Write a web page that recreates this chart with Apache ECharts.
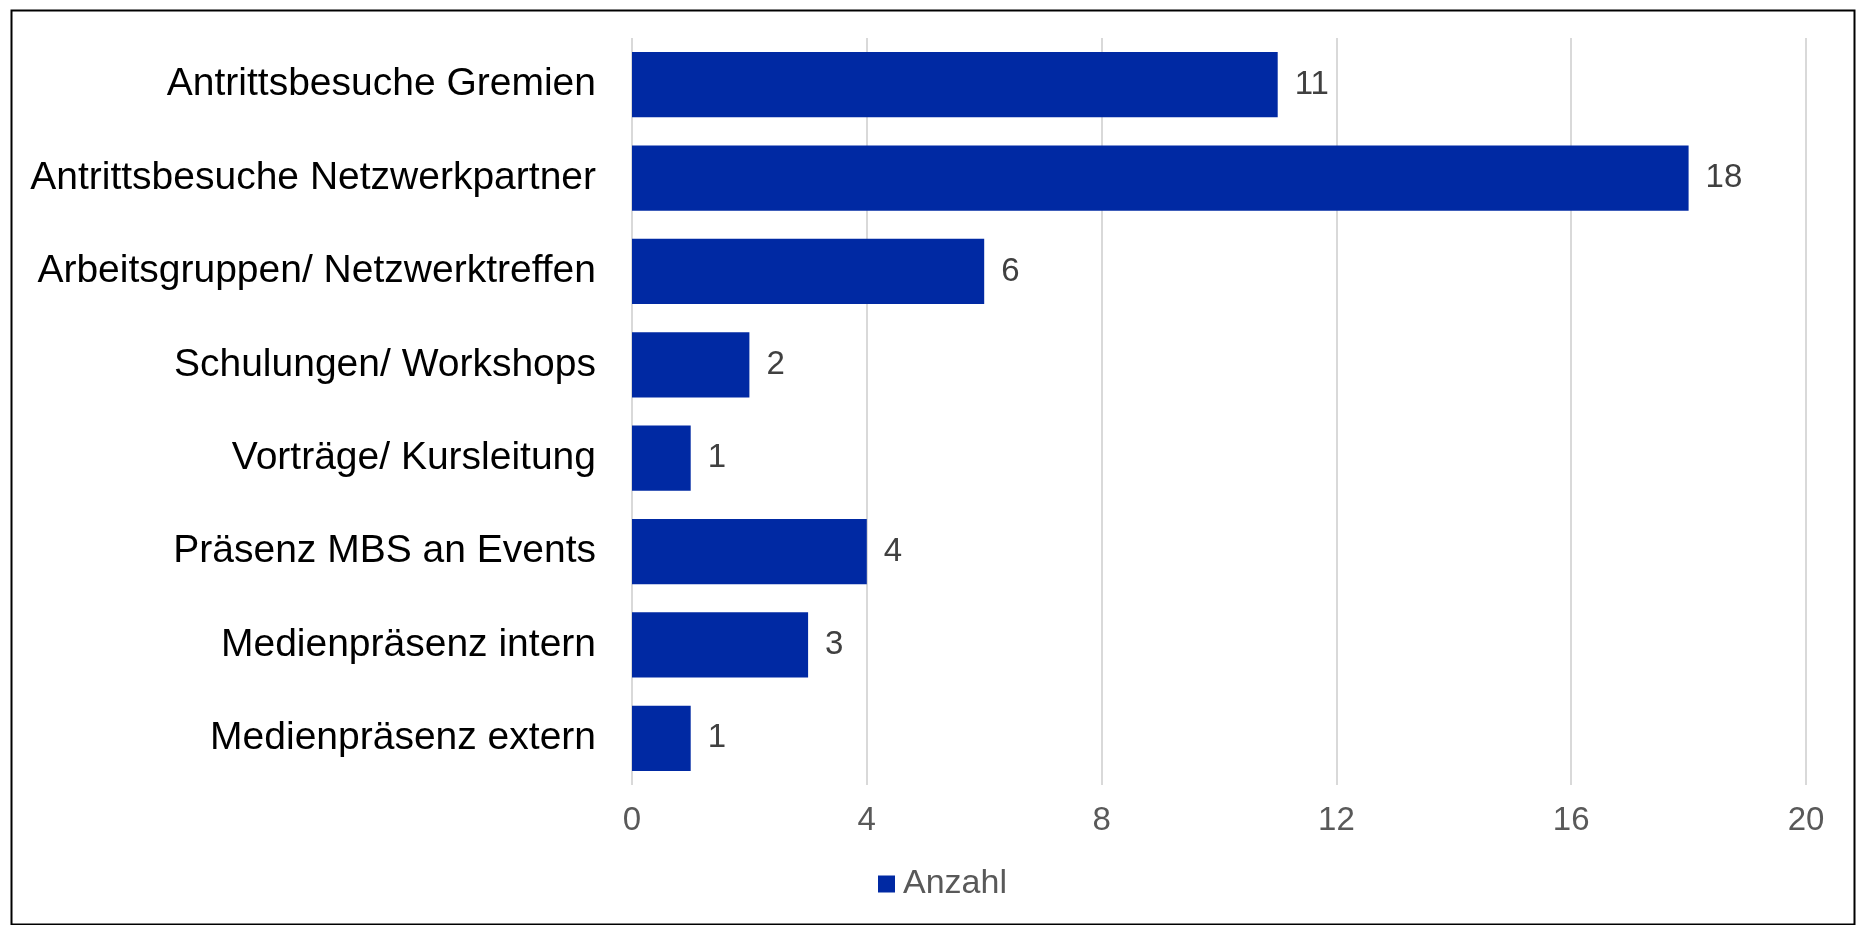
<!DOCTYPE html>
<html>
<head>
<meta charset="utf-8">
<title>Anzahl</title>
<script src="https://cdn.jsdelivr.net/npm/echarts@6/dist/echarts.min.js"></script>
<style>
  html, body { margin: 0; padding: 0; background: #ffffff; }
  #chart { width: 1858px; height: 925px; }
</style>
</head>
<body>
<div id="chart"></div>
<script>
  // Daten
  var categories = [
    'Antrittsbesuche Gremien',
    'Antrittsbesuche Netzwerkpartner',
    'Arbeitsgruppen/ Netzwerktreffen',
    'Schulungen/ Workshops',
    'Vorträge/ Kursleitung',
    'Präsenz MBS an Events',
    'Medienpräsenz intern',
    'Medienpräsenz extern'
  ];
  var anzahl = [11, 18, 6, 2, 1, 4, 3, 1];
  var seriesName = 'Anzahl';
  var axisMin = 0;
  var axisMax = 20;
  var axisStep = 4;

  var font = "'Liberation Sans', Arial, sans-serif";
  var chart = echarts.init(document.getElementById('chart'));
  chart.setOption({
    backgroundColor: '#ffffff',
    animation: false,
    textStyle: { fontFamily: font },
    graphic: [{
      type: 'rect',
      left: 9,
      top: 8,
      shape: { width: 1843, height: 914 },
      style: { fill: 'none', stroke: '#000000', lineWidth: 2 },
      silent: true
    }],
    legend: {
      data: [seriesName],
      left: 873,
      top: 862,
      itemWidth: 17,
      itemHeight: 17,
      icon: 'rect',
      textStyle: { fontSize: 34, color: '#595959', fontFamily: font, padding: [0, 0, 0, 3] }
    },
    grid: {
      left: 632,
      right: 52,
      top: 38,
      bottom: 140,
      containLabel: false
    },
    xAxis: {
      type: 'value',
      min: axisMin,
      max: axisMax,
      interval: axisStep,
      axisLine: { show: false },
      axisTick: { show: false },
      splitLine: { show: true, lineStyle: { color: '#d9d9d9', width: 2 } },
      axisLabel: { fontSize: 33, color: '#595959', margin: 19, fontFamily: font }
    },
    yAxis: {
      type: 'category',
      data: categories,
      inverse: true,
      axisLine: { show: false },
      axisTick: { show: false },
      splitLine: { show: false },
      axisLabel: { fontSize: 39, color: '#000000', margin: 36, fontFamily: font }
    },
    series: [{
      name: seriesName,
      type: 'bar',
      data: anzahl,
      barCategoryGap: '30%',
      itemStyle: { color: '#0029A3' },
      label: {
        show: true,
        position: 'right',
        distance: 17,
        fontSize: 33,
        color: '#404040',
        fontFamily: font
      }
    }]
  });
</script>
</body>
</html>
